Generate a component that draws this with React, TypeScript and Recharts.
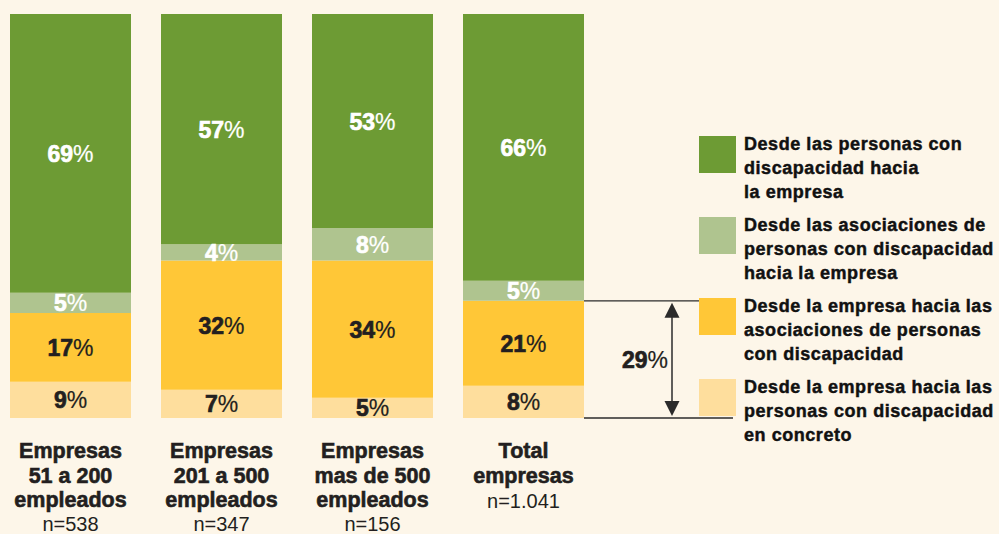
import { BarChart, Bar, XAxis, YAxis, LabelList, Legend, ReferenceArea } from 'recharts'

// categories (bottom labels)
const categories = ['e51', 'e201', 'e500', 'total']
const categoryLines = [
  ['Empresas', '51 a 200', 'empleados'],
  ['Empresas', '201 a 500', 'empleados'],
  ['Empresas', 'mas de 500', 'empleados'],
  ['Total', 'empresas'],
]
const sampleSizes = ['n=538', 'n=347', 'n=156', 'n=1.041']

// stacked from bottom to top, in %
const empresaPersonas = [9, 7, 5, 8]
const empresaAsociaciones = [17, 32, 34, 21]
const asociacionesEmpresa = [5, 4, 8, 5]
const personasEmpresa = [69, 57, 53, 66]

// bracket on the total bar
const desdeEmpresaTotal = 29

const seriesNames = {
  personasEmpresa: 'Desde las personas con\ndiscapacidad hacia\nla empresa',
  asociacionesEmpresa: 'Desde las asociaciones de\npersonas con discapacidad\nhacia la empresa',
  empresaAsociaciones: 'Desde la empresa hacia las\nasociaciones de personas\ncon discapacidad',
  empresaPersonas: 'Desde la empresa hacia las\npersonas con discapacidad\nen concreto',
}

const colors = {
  personasEmpresa: '#6d9b34',
  asociacionesEmpresa: '#afc48f',
  empresaAsociaciones: '#ffc737',
  empresaPersonas: '#fede9d',
}

const BG = '#fdf6e9'
const INK = '#231f20'
const FONT = '"Liberation Sans", Arial, sans-serif'

const data = categories.map((c, i) => ({
  category: c,
  empresaPersonas: empresaPersonas[i],
  empresaAsociaciones: empresaAsociaciones[i],
  asociacionesEmpresa: asociacionesEmpresa[i],
  personasEmpresa: personasEmpresa[i],
}))

const legendOrder = ['personasEmpresa', 'asociacionesEmpresa', 'empresaAsociaciones', 'empresaPersonas'] as const

function PercentLabel(fill: string) {
  return (props: any) => {
    const { x, y, width, height, value } = props
    return (
      <text
        x={x + width / 2}
        y={y + height / 2 + 8.5}
        textAnchor="middle"
        fill={fill}
        stroke={fill}
        strokeWidth={0.7}
        fontFamily={FONT}
        fontSize={23}
        fontWeight={700}
      >
        {value}
        <tspan fontWeight={400} strokeWidth={0.2}>%</tspan>
      </text>
    )
  }
}

function CategoryTick(props: any) {
  const { x, payload } = props
  const i = categories.indexOf(payload.value)
  const lines = categoryLines[i]
  const top = 458
  const step = 24.5
  return (
    <g>
      {lines.map((l, k) => (
        <text key={k} x={x} y={top + k * step} textAnchor="middle" fill={INK} stroke={INK} strokeWidth={0.6}
          fontFamily={FONT} fontSize={21.5} fontWeight={700}>
          {l}
        </text>
      ))}
      <text x={x} y={Math.min(top + lines.length * step + 1, 530.5)} textAnchor="middle" fill={INK}
        fontFamily={FONT} fontSize={20} fontWeight={400}>
        {sampleSizes[i]}
      </text>
    </g>
  )
}

function Bracket(props: any) {
  const { x, y, width, height } = props
  const right = x + width
  const x0 = right - 15
  const x1 = right + 134
  const ax = right + 73
  const yb = y + height
  const stroke = '#2b2b2b'
  return (
    <g>
      <line x1={x0} x2={x1} y1={y} y2={y} stroke={stroke} strokeWidth={1.3} />
      <line x1={x0} x2={x1} y1={yb} y2={yb} stroke={stroke} strokeWidth={1.3} />
      <line x1={ax} x2={ax} y1={y + 10} y2={yb - 10} stroke={stroke} strokeWidth={1.5} />
      <polygon points={`${ax},${y + 2} ${ax - 7.5},${y + 17} ${ax + 7.5},${y + 17}`} fill={stroke} />
      <polygon points={`${ax},${yb - 2} ${ax - 7.5},${yb - 17} ${ax + 7.5},${yb - 17}`} fill={stroke} />
      <text x={ax - 4} y={y + height / 2 + 8.5} textAnchor="end" fill={INK} stroke={INK} strokeWidth={0.7}
        fontFamily={FONT} fontSize={23} fontWeight={700}>
        {desdeEmpresaTotal}
        <tspan fontWeight={400} strokeWidth={0.2}>%</tspan>
      </text>
    </g>
  )
}

function LegendContent() {
  return (
    <div style={{ fontFamily: FONT }}>
      {legendOrder.map((key) => (
        <div key={key} style={{ display: 'flex', alignItems: 'flex-start', height: 81 }}>
          <div style={{ width: 37, height: 37, background: colors[key], flex: 'none' }} />
          <div style={{
            marginLeft: 8, marginTop: -4, fontSize: 18, fontWeight: 700, lineHeight: '24px',
            letterSpacing: 0.55, color: '#111', whiteSpace: 'pre', WebkitTextStroke: '0.45px #111',
          }}>
            {seriesNames[key]}
          </div>
        </div>
      ))}
    </div>
  )
}

export default function App() {
  return (
    <div style={{ position: 'absolute', left: 0, top: 0, width: 999, height: 534, background: BG, overflow: 'hidden' }}>
      <BarChart
        width={999}
        height={534}
        data={data}
        margin={{ top: 14, right: 400, left: -5, bottom: 0 }}
        barCategoryGap={15}
      >
        <XAxis dataKey="category" height={116} axisLine={false} tickLine={false} tick={<CategoryTick />} interval={0} />
        <YAxis hide domain={[0, 100]} />
        <Legend
          layout="horizontal"
          verticalAlign="middle"
          align="center"
          content={<LegendContent />}
          wrapperStyle={{ left: 699, top: 136, right: 'auto', bottom: 'auto', width: 300 }}
        />
        <Bar dataKey="empresaPersonas" stackId="a" fill={colors.empresaPersonas} isAnimationActive={false}>
          <LabelList dataKey="empresaPersonas" content={PercentLabel(INK)} />
        </Bar>
        <Bar dataKey="empresaAsociaciones" stackId="a" fill={colors.empresaAsociaciones} isAnimationActive={false}>
          <LabelList dataKey="empresaAsociaciones" content={PercentLabel(INK)} />
        </Bar>
        <Bar dataKey="asociacionesEmpresa" stackId="a" fill={colors.asociacionesEmpresa} isAnimationActive={false}>
          <LabelList dataKey="asociacionesEmpresa" content={PercentLabel('#ffffff')} />
        </Bar>
        <Bar dataKey="personasEmpresa" stackId="a" fill={colors.personasEmpresa} isAnimationActive={false}>
          <LabelList dataKey="personasEmpresa" content={PercentLabel('#ffffff')} />
        </Bar>
        <ReferenceArea y1={0} y2={desdeEmpresaTotal} shape={<Bracket />} ifOverflow="visible" />
      </BarChart>
    </div>
  )
}
